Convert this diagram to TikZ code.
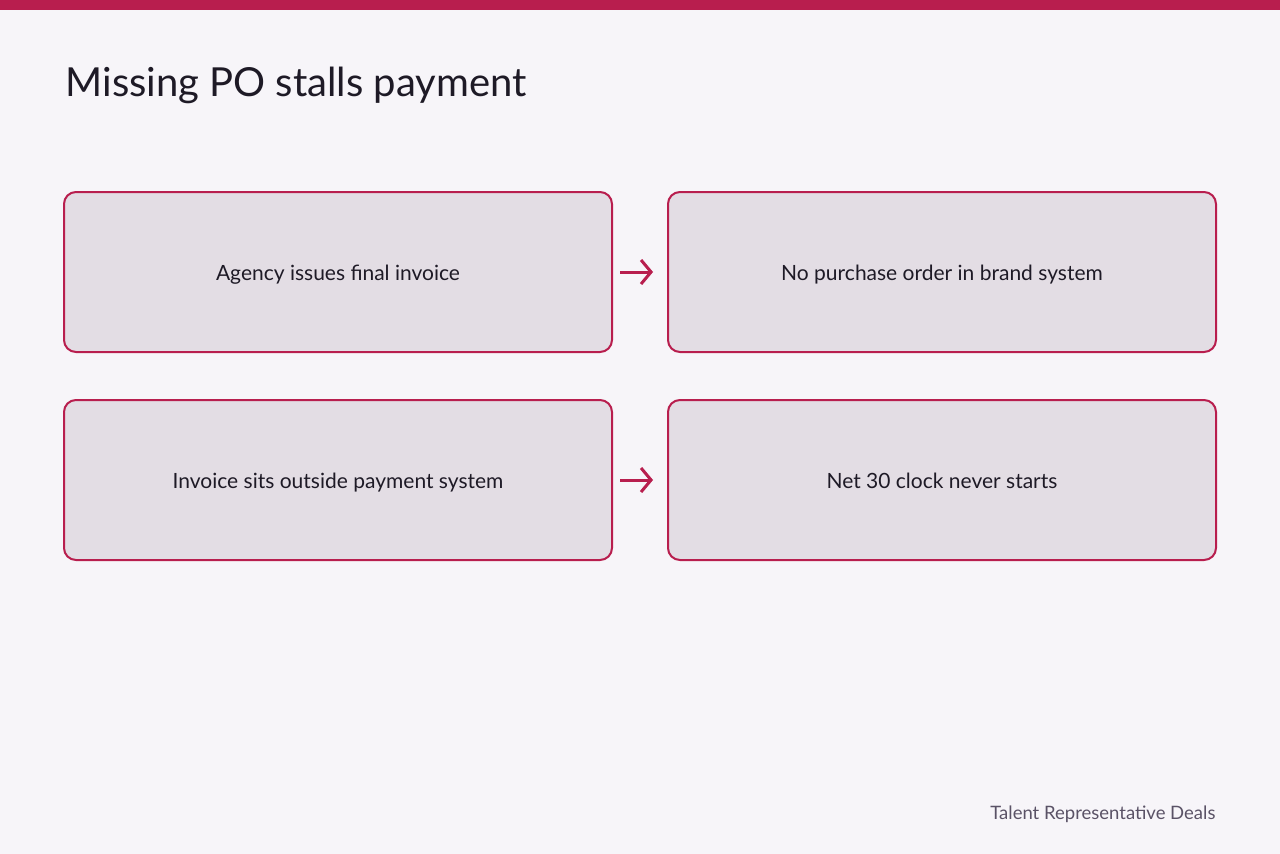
\documentclass[tikz,border=0pt]{standalone}
\usepackage{fontspec}
\setmainfont{Lato}
\usetikzlibrary{arrows.meta}
\definecolor{crimson}{HTML}{B81E4E}
\definecolor{paper}{HTML}{F7F5F9}
\definecolor{boxfill}{HTML}{E3DDE4}
\definecolor{ink}{HTML}{1E1A26}
\definecolor{muted}{HTML}{5A5266}
\tikzset{
  stepbox/.style={draw=crimson, fill=boxfill, line width=2pt, rounded corners=12pt,
    minimum width=548pt, minimum height=160pt, text=ink, text height=16pt, text depth=0pt,
    font=\fontsize{21}{25}\selectfont},
  flow/.style={draw=crimson, line width=3pt, -{Straight Barb[length=10pt,width=24pt]}}
}
\begin{document}
\begin{tikzpicture}[x=1pt, y=-1pt]
\useasboundingbox[fill=paper] (0,0) rectangle (1280,854);
\fill[crimson] (0,0) rectangle (1280,10);
\node[anchor=base west, text=ink, font=\fontsize{40}{48}\selectfont] (title) at (62,96) {Missing PO stalls payment};
% first row
\node[stepbox] (invoice) at (338,272) {Agency issues final invoice};
\node[stepbox] (nopo) at (942,272) {No purchase order in brand system};
% second row
\node[stepbox] (outside) at (338,480) {Invoice sits outside payment system};
\node[stepbox] (clock) at (942,480) {Net 30 clock never starts};
\draw[flow] ([xshift=7pt]invoice.east) -- ([xshift=-14pt]nopo.west);
\draw[flow] ([xshift=7pt]outside.east) -- ([xshift=-14pt]clock.west);
\node[anchor=base east, text=muted, font=\fontsize{18.5}{22}\selectfont] (footer) at (1219,819) {Talent Representative Deals};
\end{tikzpicture}
\end{document}
